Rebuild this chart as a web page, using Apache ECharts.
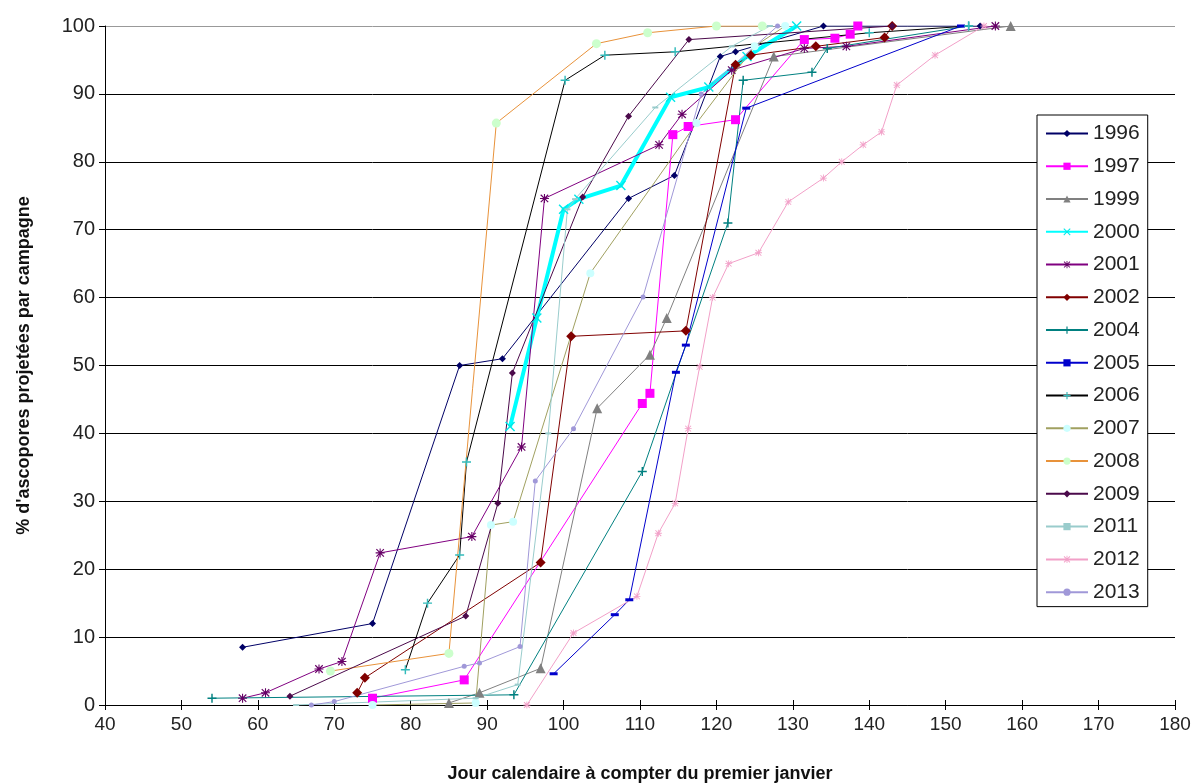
<!DOCTYPE html>
<html><head><meta charset="utf-8">
<script src="https://cdn.jsdelivr.net/npm/echarts@6/dist/echarts.min.js"></script>
<style>html,body{margin:0;padding:0;background:#fff;}#c{width:1203px;height:783px;}</style>
</head><body><div id="c"></div>
<script>
const years = ['1996','1997','1999','2000','2001','2002','2004','2005','2006','2007','2008','2009','2011','2012','2013'];
const xTicks = [40,50,60,70,80,90,100,110,120,130,140,150,160,170,180];
const d1996 = [[58,8.5],[75,12],[86.4,50],[92,51],[108.5,74.6],[114.5,78],[120.5,95.5],[122.5,96.2],[134,100],[154.5,100]];
const d1997 = [[75,1],[87,3.7],[110.3,44.4],[111.3,45.9],[114.3,84],[116.3,85.2],[122.5,86.2],[131.5,98],[135.5,98.2],[137.5,98.8],[138.5,100]];
const d1999 = [[85,0.3],[89,1.8],[97,5.4],[104.4,43.7],[111.3,51.6],[113.5,57],[127.5,95.5],[158.5,100]];
const d2000 = [[93,41],[96.5,57],[100,73],[102,74.5],[107.5,76.5],[114,89.5],[119,91],[124,95.5],[130.5,100]];
const d2001 = [[58,1],[61,1.8],[68,5.3],[71,6.4],[76,22.4],[88,24.8],[94.5,38],[97.5,74.6],[112.5,82.5],[115.5,87],[122,93.5],[131.5,96.7],[137,97],[156.5,100]];
const d2002 = [[73,1.8],[74,4],[97,21],[101,54.3],[116,55.1],[122.5,94.3],[124.5,95.7],[133,97],[142,98.3],[143,100]];
const d2004 = [[54,1],[93.5,1.5],[110.3,34.4],[121.5,71],[123.5,92],[132.5,93.2],[134.5,96.7],[153,100]];
const d2005 = [[98.7,4.6],[106.7,13.3],[108.6,15.5],[114.7,49],[116,53],[123.9,87.9],[152,100]];
const d2006 = [[79.3,5.2],[82.2,15],[86.4,22.1],[87.3,35.8],[100.2,92],[105.4,95.7],[114.6,96.2],[140,99],[153,100]];
const d2007 = [[75,0],[88.5,0.3],[90.5,26.5],[93.4,27],[103.5,63.6],[117.4,85.7],[125,97],[129,100]];
const d2008 = [[69.5,5],[85,7.6],[91.2,85.7],[104.3,97.4],[111,99],[120,100],[126,100]];
const d2009 = [[64.2,1.3],[87.2,13.1],[91.4,29.7],[93.3,48.9],[102.5,74.8],[108.5,86.7],[116.4,98],[143,100]];
const d2011 = [[65,0],[88.5,1],[94,3],[98,40],[100.5,73],[101.5,74.5],[112,88],[122,97],[127,100]];
const d2012 = [[95.2,0],[101.3,10.6],[109.6,16],[112.4,25.3],[114.6,29.7],[116.3,40.7],[117.8,49.8],[119.5,60],[121.6,65],[125.5,66.6],[129.4,74.1],[134,77.6],[136.4,80],[139.2,82.5],[141.6,84.4],[143.6,91.3],[148.6,95.7],[155,100]];
const d2013 = [[67,0],[70,0.5],[87,5.7],[89,6.2],[94.3,8.6],[96.3,33],[101.3,40.7],[110.4,60.1],[118,90],[128,100]];

const X = 'path://M0,1L1,0L5,4L9,0L10,1L6,5L10,9L9,10L5,6L1,10L0,9L4,5Z';
const PLUS = 'path://M4.2,0H5.8V4.2H10V5.8H5.8V10H4.2V5.8H0V4.2H4.2Z';
const STAR = 'path://M4.4,0H5.6V10H4.4Z M0,4.4H10V5.6H0Z M0.4,1.3L1.3,0.4L9.6,8.7L8.7,9.6Z M8.7,0.4L9.6,1.3L1.3,9.6L0.4,8.7Z';

function s(name, data, color, symbol, size, mcolor, width) {
  return {
    name: name, type: 'line', data: data, symbol: symbol, symbolSize: size,
    showSymbol: true, animation: false,
    lineStyle: { color: color, width: width || 1 },
    itemStyle: { color: mcolor || color, borderWidth: 0 },
    emphasis: { disabled: true }
  };
}

const series = [
  s('1996', d1996, '#000066', 'diamond', 7),
  s('1997', d1997, '#FF00FF', 'rect', 9),
  s('1999', d1999, '#808080', 'triangle', 10),
  s('2000', d2000, '#00FFFF', X, 10, '#00E8E8', 4),
  s('2001', d2001, '#800080', STAR, 9, '#660066'),
  s('2002', d2002, '#800000', 'diamond', 10),
  s('2004', d2004, '#008080', PLUS, 9),
  s('2005', d2005, '#0000CC', 'rect', [8,3]),
  s('2006', d2006, '#000000', PLUS, 9, '#33BBBB'),
  s('2007', d2007, '#A0A060', 'circle', 8, '#CCFFFF'),
  s('2008', d2008, '#E8923A', 'circle', 9, '#CCFFCC'),
  s('2009', d2009, '#4B0A4B', 'diamond', 7),
  s('2011', d2011, '#99CCCC', 'rect', [6,2]),
  s('2012', d2012, '#F2A0C8', STAR, 7),
  s('2013', d2013, '#A098D8', 'circle', 5)
];

const gridColors = ['#000','#000','#000','#000','#000','#000','#000','#000','#000','#000','#999'];

const chart = echarts.init(document.getElementById('c'), null, {renderer: 'canvas'});
chart.setOption({
  animation: false,
  backgroundColor: '#fff',
  grid: { left: 105, right: 28, top: 26, bottom: 78, containLabel: false, outerBoundsMode: 'none' },
  xAxis: [{
    type: 'value', min: 40, max: 180, interval: 10,
    axisLine: { show: true, onZero: false, lineStyle: { color: '#000', width: 1 } },
    axisTick: { show: true, inside: false, length: 5, lineStyle: { color: '#000' } },
    axisLabel: { color: '#222', fontSize: 19, fontFamily: 'Liberation Sans, Arial', margin: 10,
      formatter: function (v) { return xTicks.indexOf(v) >= 0 ? String(v) : ''; } },
    splitLine: { show: false },
    name: 'Jour calendaire à compter du premier janvier', nameLocation: 'middle', nameGap: 60,
    nameTextStyle: { color: '#111', fontSize: 18, fontWeight: 'bold', fontFamily: 'Liberation Sans, Arial' }
  }, {
    type: 'value', min: 40, max: 180, interval: 10, position: 'bottom',
    axisLine: { show: false }, axisLabel: { show: false }, splitLine: { show: false },
    axisTick: { show: true, inside: true, length: 5, lineStyle: { color: '#000' } }
  }],
  yAxis: {
    type: 'value', min: 0, max: 100, interval: 10,
    axisLine: { show: true, lineStyle: { color: '#000', width: 1 } },
    axisTick: { show: true, inside: false, length: 6, lineStyle: { color: '#000' } },
    axisLabel: { color: '#222', fontSize: 20, fontFamily: 'Liberation Sans, Arial', margin: 10 },
    splitLine: { show: true, lineStyle: { color: gridColors, width: 1 } },
    name: "% d'ascopores projetées par campagne", nameLocation: 'middle', nameGap: 72,
    nameTextStyle: { color: '#111', fontSize: 18, fontWeight: 'bold', fontFamily: 'Liberation Sans, Arial' }
  },
  legend: {
    data: years, orient: 'vertical', left: 1037, top: 115,
    backgroundColor: '#fff', borderColor: '#000', borderWidth: 1,
    padding: [8, 8, 4, 8], itemWidth: 42, itemHeight: 9, itemGap: 11.76,
    textStyle: { color: '#222', fontSize: 21, lineHeight: 21, fontFamily: 'Liberation Sans, Arial' },
    selectedMode: false
  },
  tooltip: { show: false },
  series: series
});
</script></body></html>
